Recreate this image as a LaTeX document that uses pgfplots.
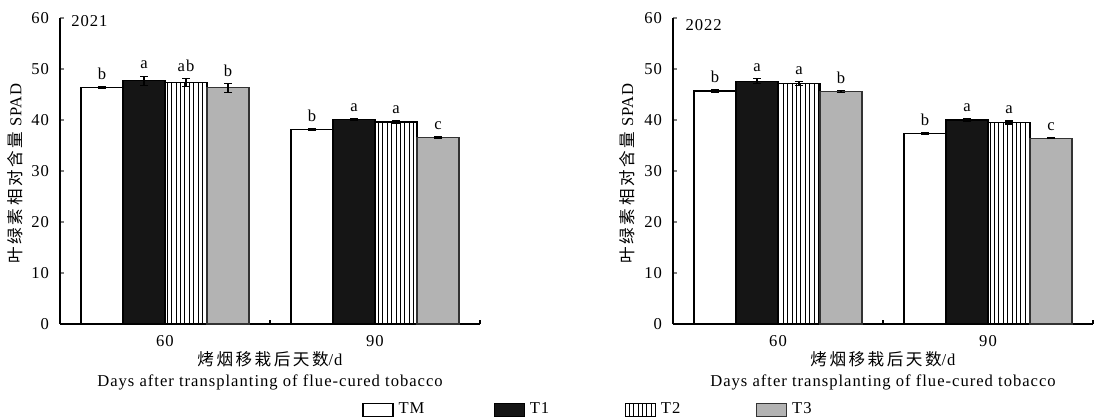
\documentclass[border=0pt]{standalone}
\usepackage{fontspec}
\setmainfont{Liberation Serif}[LetterSpace=6]
\newfontfamily\cjk{Noto Sans CJK SC}[LetterSpace=15]
\usepackage{pgfplots}
\pgfplotsset{compat=1.18}
\usetikzlibrary{patterns.meta}
\definecolor{tone}{HTML}{151515}
\definecolor{tthree}{HTML}{B3B3B3}

\pgfplotstableread{
x y err lab
0 46.4 0.2 b
1 38.2 0.15 b
}\aTM
\pgfplotstableread{
x y err lab
0 47.7 0.9 a
1 40.1 0.15 a
}\aTone
\pgfplotstableread{
x y err lab
0 47.4 0.8 ab
1 39.6 0.3 a
}\aTtwo
\pgfplotstableread{
x y err lab
0 46.3 0.9 b
1 36.5 0.15 c
}\aTthree
\pgfplotstableread{
x y err lab
0 45.7 0.3 b
1 37.4 0.2 b
}\bTM
\pgfplotstableread{
x y err lab
0 47.6 0.5 a
1 40.0 0.35 a
}\bTone
\pgfplotstableread{
x y err lab
0 47.2 0.4 a
1 39.5 0.3 a
}\bTtwo
\pgfplotstableread{
x y err lab
0 45.6 0.15 b
1 36.4 0.1 c
}\bTthree

\pgfplotsset{
  myaxis/.style={
    scale only axis, width=210pt, height=153pt,
    xmin=-0.5, xmax=1.5, ymin=0, ymax=60,
    clip=false,
    axis x line*=bottom, axis y line*=left,
    axis line style={line width=0.6pt},
    ybar=0pt, bar width=0.2,
    xtick={0,1}, xticklabels={60,90},
    major x tick style={draw=none},
    extra x ticks={0.5,1.5}, extra x tick labels={},
    extra x tick style={major x tick style={draw=black, line width=0.6pt}},
    ytick={0,10,...,60},
    tick align=inside, major tick length=2pt,
    tick style={line width=0.6pt},
    /pgf/number format/assume math mode=true,
    every tick label/.append style={font=\fontsize{8.3}{10}\selectfont},
    xticklabel style={yshift=-2pt},
    yticklabel style={xshift=-2pt},
    ylabel={{\cjk 叶绿素相对含量} SPAD},
    xlabel={{\cjk 烤烟移栽后天数}/d\\Days after transplanting of flue-cured tobacco},
    xlabel style={align=center, font=\fontsize{8.3}{10.5}\selectfont, at={(axis description cs:0.5,-0.152)}, anchor=center},
    ylabel style={font=\fontsize{8.3}{10}\selectfont, anchor=center},
    point meta=explicit symbolic,
    nodes near coords,
    visualization depends on={\thisrow{err} \as \myerr},
    every node near coord/.append style={anchor=south, inner sep=0pt, font=\fontsize{8.3}{10}\selectfont, yshift={\myerr*2.55pt+3.2pt}},
    error bars/y dir=both, error bars/y explicit,
    error bars/error bar style={line width=0.6pt, black},
    error bars/error mark options={rotate=90, line width=0.6pt, black, mark size=2pt},
    every axis plot/.append style={line width=0.6pt,
      legend image code/.code={\draw[##1, line width=0.6pt] (0pt,-3.25pt) rectangle (15pt,3.25pt);}},
  },
  sTM/.style={draw=black, fill=white},
  sTone/.style={draw=black, fill=tone},
  sTtwo/.style={draw=black, pattern={Lines[angle=90, distance=2.2pt, line width=0.5pt]}},
  sTthree/.style={draw=black!80, fill=tthree},
}

\begin{document}
\begin{tikzpicture}[font=\fontsize{8.3}{10}\selectfont]
\path[use as bounding box] (0,0) rectangle (547.5pt,208.5pt);
\begin{axis}[myaxis, at={(30pt,46.5pt)}, anchor=south west,
  ylabel style={at={(axis description cs:-0.107,0.493)}},
  legend style={at={(axis description cs:0.719,-0.281)}, anchor=west, draw=none, fill=none,
    inner sep=0pt, legend columns=4, nodes={inner sep=1.5pt},
    font=\fontsize{8.3}{10}\selectfont,
    /tikz/every odd column/.append style={column sep=0pt}},
  legend cell align=left]
\addplot[sTM] table[x=x, y=y, y error=err, meta=lab] {\aTM};
\addplot[sTone] table[x=x, y=y, y error=err, meta=lab] {\aTone};
\addplot[sTtwo] table[x=x, y=y, y error=err, meta=lab] {\aTtwo};
\addplot[sTthree] table[x=x, y=y, y error=err, meta=lab] {\aTthree};
\addlegendentry{\makebox[47pt][l]{\hspace{1pt}TM}}
\addlegendentry{\makebox[47pt][l]{\hspace{1pt}T1}}
\addlegendentry{\makebox[47pt][l]{\hspace{1pt}T2}}
\addlegendentry{\makebox[47pt][l]{\hspace{1pt}T3}}
\node[anchor=west, inner sep=0pt] at (axis description cs:0.026,0.99) {2021};
\end{axis}
\begin{axis}[myaxis, at={(336.5pt,46.5pt)}, anchor=south west,
  ylabel style={at={(axis description cs:-0.110,0.493)}}]
\addplot[sTM] table[x=x, y=y, y error=err, meta=lab] {\bTM};
\addplot[sTone] table[x=x, y=y, y error=err, meta=lab] {\bTone};
\addplot[sTtwo] table[x=x, y=y, y error=err, meta=lab] {\bTtwo};
\addplot[sTthree] table[x=x, y=y, y error=err, meta=lab] {\bTthree};
\node[anchor=west, inner sep=0pt] at (axis description cs:0.029,0.977) {2022};
\end{axis}
\end{tikzpicture}
\end{document}
